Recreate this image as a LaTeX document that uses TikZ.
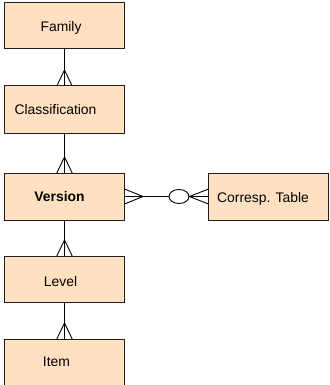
\documentclass[tikz,border=0pt]{standalone}
\usepackage{fontspec}
\setmainfont{Liberation Sans}
\usetikzlibrary{calc,shapes.geometric}
\definecolor{entfill}{RGB}{255,224,192}
\definecolor{entline}{RGB}{30,30,30}
\begin{document}
\begin{tikzpicture}[x=1pt,y=-1pt,
  entity/.style={draw=entline, line width=1pt, fill=entfill,
    minimum width=120pt, minimum height=46pt, inner sep=0pt, outer sep=0pt},
  lbl/.style={font=\fontsize{13.9}{16}\selectfont, inner sep=0pt, anchor=base},
  rel/.style={line width=0.9pt, draw=black}]
\clip (0,0) rectangle (329,385);
\fill[white] (0,0) rectangle (329,385);

% entities
\node[entity] (family)  at (64.5,26) {};
\node[entity, minimum height=47pt] (classif) at (64.5,109.5) {};
\node[entity, minimum height=47pt] (version) at (64.5,196.5) {};
\node[entity] (level)   at (64.5,279) {};
\node[entity, minimum height=48pt] (item) at (64.5,363) {};
\node[entity, minimum height=47pt] (corresp) at (268.5,196.5) {};

% entity names
\node[lbl] (familyT)  at (61,32) {Family};
\node[lbl] (classifT) at (55.5,114) {Classification};
\node[lbl] (versionT) at (59.5,201.5) {\bfseries Version};
\node[lbl] (levelT)   at (60.5,286) {Level};
\node[lbl] (itemT)    at (56.5,366.5) {Item};
\node[lbl] (corrT)    at (263,202) {Corresp. Table};

% one-to-many relationships down the hierarchy
\foreach \a/\b in {family/classif, classif/version, version/level, level/item}{
  \draw[rel] (\a.south) -- (\b.north);
  \draw[rel] ($(\b.north)+(-7.7,0)$) -- ($(\b.north)+(0,-16)$) -- ($(\b.north)+(7.7,0)$);
}

% optional many-to-many link to the correspondence table
\node[ellipse, draw, line width=0.9pt, fill=white, minimum width=20pt,
  minimum height=14pt, inner sep=0pt] (opt) at (179,196.5) {};
\draw[rel] (version.east) -- (opt.west);
\draw[rel] ($(version.east)+(0,-7.5)$) -- ($(version.east)+(18.5,0)$) -- ($(version.east)+(0,7.5)$);
\draw[rel] (opt.east) -- (corresp.west);
\draw[rel] ($(corresp.west)+(0,-7.5)$) -- (opt.east) -- ($(corresp.west)+(0,7.5)$);
\end{tikzpicture}
\end{document}
